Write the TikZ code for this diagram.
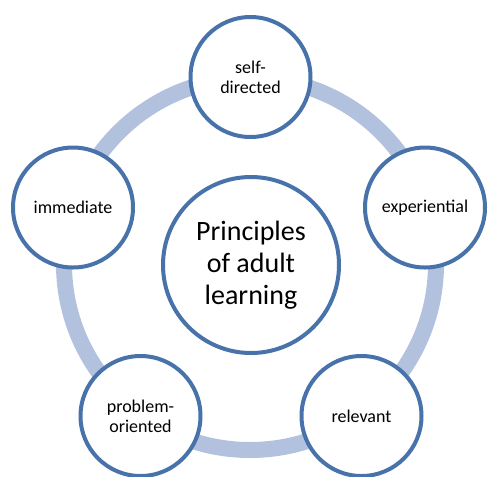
\documentclass[tikz,border=0pt]{standalone}
\usepackage{fontspec}
\setmainfont{Carlito}
\usepackage{tikz}
\usetikzlibrary{positioning}

\definecolor{ringblue}{RGB}{178,194,222}
\definecolor{edgeblue}{RGB}{72,114,170}

\begin{document}
\begin{tikzpicture}[
    x=0.75pt, y=-0.75pt,
    principle/.style={circle, draw=edgeblue, line width=3pt, fill=white, minimum size=90pt, inner sep=0pt, align=center, font=\fontsize{13.5}{15}\selectfont},
    hub/.style={circle, draw=edgeblue, line width=3pt, fill=white, minimum size=132pt, inner sep=0pt, align=center, font=\fontsize{21}{24}\selectfont},
    ring/.style={draw=ringblue, line width=12pt}
]
\useasboundingbox (0,0) rectangle (489,476);

% Ring behind the circles
\coordinate (mid) at (250,264);
\draw[ring] (mid) circle[radius=139.5pt];

% Centre circle
\node[hub] (hub) at (251,265) {Principles\\of adult\\learning};

% Principles around the ring
\node[principle] (self) at (250.5,77) {self-\\directed};
\node[principle] (exp) at (425,207.5) {experiential};
\node[principle] (rel) at (361.5,416) {relevant};
\node[principle] (prob) at (140.5,416) {problem-\\oriented};
\node[principle] (imm) at (73,207.5) {immediate};

\end{tikzpicture}
\end{document}
